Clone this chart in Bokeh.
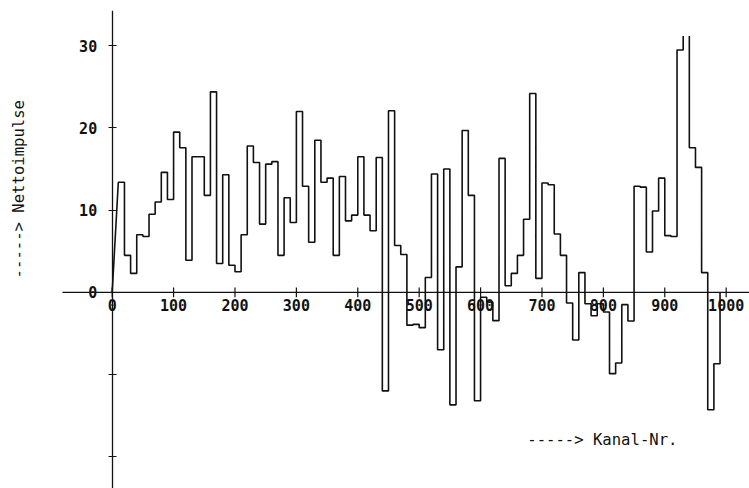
import numpy as np
from bokeh.plotting import figure
from bokeh.models import Range1d, FixedTicker
from bokeh.core.properties import value
from bokeh.embed import file_html
from bokeh.resources import INLINE

# ---- data -------------------------------------------------------------
bin_start = 10          # first channel bin edge
bin_width = 10          # channels per bin
net_counts = [
    13.4, 4.5, 2.3, 7.0, 6.8, 9.5, 11.0, 14.6, 11.3,            # 10-90
    19.5, 17.6, 3.9, 16.5, 16.5, 11.8, 24.4, 3.5, 14.3, 3.3,    # 100-190
    2.5, 7.0, 17.8, 15.8, 8.3, 15.6, 15.9, 4.5, 11.5, 8.5,      # 200-290
    22.0, 12.9, 6.1, 18.5, 13.4, 13.9, 4.5, 14.1, 8.7, 9.4,     # 300-390
    16.5, 9.4, 7.5, 16.4, -12.0, 22.1, 5.7, 4.6, -4.0, -3.9,    # 400-490
    -4.3, 1.8, 14.4, -7.0, 15.0, -13.7, 3.1, 19.7, 11.8, -13.2, # 500-590
    -0.6, -1.2, -3.45, 16.3, 0.8, 2.3, 4.5, 8.9, 24.2, 1.7,     # 600-690
    13.3, 13.1, 7.1, 4.5, -1.3, -5.8, 2.4, -1.4, -2.85, -1.4,   # 700-790
    -2.4, -9.9, -8.6, -1.5, -3.5, 12.9, 12.8, 4.9, 9.9, 13.9,   # 800-890
    6.9, 6.8, 29.5, 36.0, 17.6, 15.2, 2.4, -14.3, -8.7,         # 900-980
]
x_ticks = [0, 100, 200, 300, 400, 500, 600, 700, 800, 900, 1000]
y_ticks = [-20, -10, 0, 10, 20, 30]
y_tick_labels = {-20: "", -10: "", 0: "0", 10: "10", 20: "20", 30: "30"}
x_title = "-----> Kanal-Nr."
y_title = "-----> Nettoimpulse"

# ---- build step path --------------------------------------------------
n = len(net_counts)
edges = bin_start + bin_width * np.arange(n + 1)
X = [0.0, edges[0]]
Y = [0.0, net_counts[0]]
for i in range(n):
    X.append(edges[i + 1]); Y.append(net_counts[i])
    if i + 1 < n:
        X.append(edges[i + 1]); Y.append(net_counts[i + 1])
X.append(edges[-1]); Y.append(0.0)

clip = 31.2  # plotter window top
px, py = [], []
for i in range(len(X) - 1):
    x1, y1, x2, y2 = X[i], Y[i], X[i + 1], Y[i + 1]
    if y1 > clip and y2 > clip:
        if px and not np.isnan(px[-1]):
            px.append(np.nan); py.append(np.nan)
        continue
    if y1 > clip:
        x1 = x1 + (x2 - x1) * (y1 - clip) / (y1 - y2); y1 = clip
    if y2 > clip:
        x2 = x1 + (x2 - x1) * (clip - y1) / (y2 - y1); y2 = clip
    if not px or np.isnan(px[-1]) or px[-1] != x1 or py[-1] != y1:
        px.append(x1); py.append(y1)
    px.append(x2); py.append(y2)

# ---- figure -----------------------------------------------------------
ink = "#111111"
mono = "DejaVu Sans Mono"

p = figure(width=749, height=488, output_backend="svg", toolbar_location=None,
           x_range=Range1d(-181.9, 1038), y_range=Range1d(-23.88, 34.3),
           min_border_left=0, min_border_right=0, min_border_top=10,
           min_border_bottom=0)
p.outline_line_color = None
p.xgrid.visible = False
p.ygrid.visible = False
p.background_fill_color = "white"
p.border_fill_color = "white"

# x axis: drawn through the plot at y = 0
p.xaxis.visible = False
p.segment(x0=[-81], x1=[1040], y0=[0], y1=[0], line_color=ink, line_width=1.3)
p.segment(x0=x_ticks, x1=x_ticks, y0=[-0.6] * len(x_ticks), y1=[0.6] * len(x_ticks),
          line_color=ink, line_width=1.2)
p.text(x=x_ticks, y=[-1.5] * len(x_ticks), text=[str(t) for t in x_ticks],
       text_font=value(mono), text_font_style="bold", text_font_size="15px",
       text_align="center", text_baseline="middle", text_color=ink)

# y axis at x = 0
p.yaxis.fixed_location = 0
p.yaxis.ticker = FixedTicker(ticks=y_ticks)
p.yaxis.major_label_overrides = y_tick_labels
p.yaxis.major_tick_in = 4
p.yaxis.major_tick_out = 4
p.yaxis.minor_tick_line_color = None
p.yaxis.major_label_standoff = 11
p.yaxis.major_label_text_font = mono
p.yaxis.major_label_text_font_style = "bold"
p.yaxis.major_label_text_font_size = "15px"
p.yaxis.major_label_text_color = ink
p.yaxis.axis_line_width = 1.3
p.yaxis.major_tick_line_width = 1.2
p.yaxis.axis_line_color = ink
p.yaxis.major_tick_line_color = ink

p.line(px, py, line_color=ink, line_width=1.6)

p.text(x=[676], y=[-18.0], text=[x_title], text_font=value(mono),
       text_font_size="15.6px", text_align="left", text_baseline="middle",
       text_color=ink)
p.text(x=[-151], y=[12.55], text=[y_title], angle=np.pi / 2,
       text_font=value(mono), text_font_size="15.6px", text_align="center",
       text_baseline="middle", text_color=ink)

open("out.html", "w").write(file_html(p, INLINE))
